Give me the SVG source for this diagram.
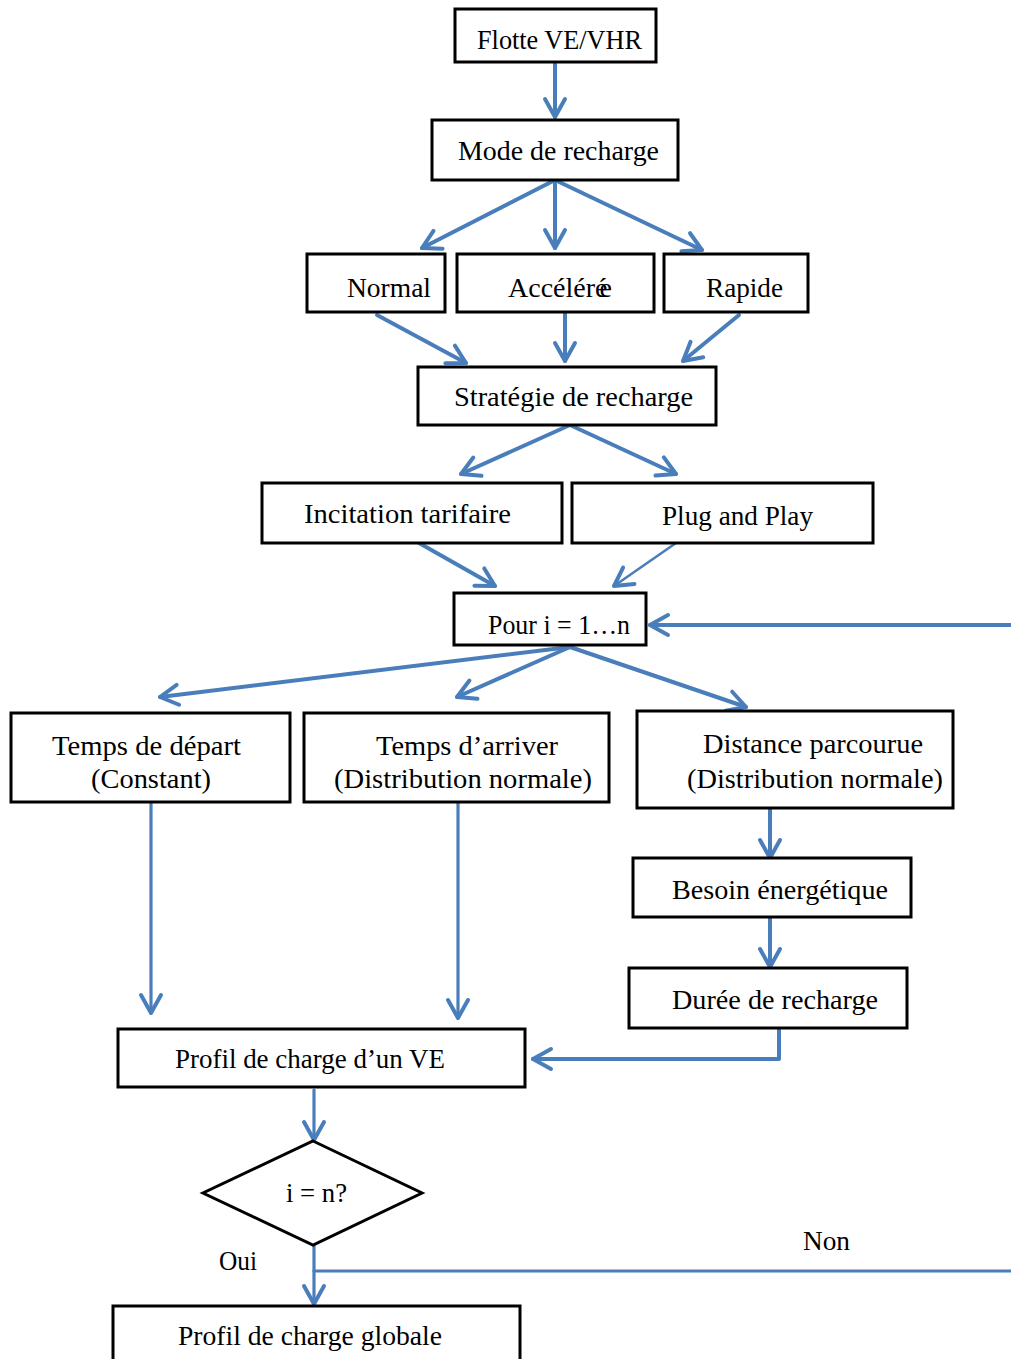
<svg xmlns="http://www.w3.org/2000/svg" width="1011" height="1359" viewBox="0 0 1011 1359">
<style>
.box{fill:#fff;stroke:#000;stroke-width:3}
.t{font-family:"Liberation Serif","Times New Roman",serif;font-size:28px;fill:#000}
.c{fill:none;stroke:#4a7ebb;stroke-width:4;stroke-linecap:round;stroke-linejoin:round}
.thin{stroke-width:2.6}
.mid{stroke-width:3.2}
</style>
<defs>
<marker id="ah" markerUnits="userSpaceOnUse" viewBox="-24 -14 28 28" markerWidth="28" markerHeight="28" refX="0" refY="0" orient="auto">
<path d="M-18,-10 L0,0 L-18,10" fill="none" stroke="#4a7ebb" stroke-width="4" stroke-linecap="round" stroke-linejoin="round"/>
</marker>
</defs>
<rect width="1011" height="1359" fill="#fff"/>
<g id="connectors">
<line class="c" x1="555" y1="62" x2="555" y2="117" marker-end="url(#ah)"/>
<line class="c" x1="555" y1="180" x2="422" y2="248" marker-end="url(#ah)"/>
<line class="c" x1="555" y1="180" x2="555" y2="248" marker-end="url(#ah)"/>
<line class="c" x1="555" y1="180" x2="702" y2="250" marker-end="url(#ah)"/>
<line class="c" x1="377" y1="315" x2="466" y2="363" marker-end="url(#ah)"/>
<line class="c" x1="565" y1="312" x2="565" y2="361" marker-end="url(#ah)"/>
<line class="c" x1="739" y1="315" x2="683" y2="361" marker-end="url(#ah)"/>
<line class="c" x1="570" y1="425" x2="461" y2="474" marker-end="url(#ah)"/>
<line class="c" x1="570" y1="425" x2="676" y2="474" marker-end="url(#ah)"/>
<line class="c" x1="419" y1="543" x2="495" y2="586" marker-end="url(#ah)"/>
<line class="c thin" x1="676" y1="543" x2="614" y2="586" marker-end="url(#ah)"/>
<line class="c" x1="1013" y1="625" x2="650" y2="625" marker-end="url(#ah)"/>
<line class="c" x1="570" y1="647" x2="160" y2="697" marker-end="url(#ah)"/>
<line class="c" x1="570" y1="647" x2="457" y2="697" marker-end="url(#ah)"/>
<line class="c" x1="570" y1="647" x2="746" y2="707" marker-end="url(#ah)"/>
<line class="c mid" x1="151" y1="803" x2="151" y2="1013" marker-end="url(#ah)"/>
<line class="c mid" x1="458" y1="803" x2="458" y2="1018" marker-end="url(#ah)"/>
<line class="c" x1="770" y1="809" x2="770" y2="858" marker-end="url(#ah)"/>
<line class="c" x1="770" y1="918" x2="770" y2="967" marker-end="url(#ah)"/>
<path class="c" d="M779,1029 V1059 H533" marker-end="url(#ah)"/>
<line class="c mid" x1="314" y1="1090" x2="314" y2="1140" marker-end="url(#ah)"/>
<line class="c mid" x1="314" y1="1246" x2="314" y2="1304" marker-end="url(#ah)"/>
<line class="c mid" x1="314" y1="1271" x2="1013" y2="1271"/>
</g>
<g id="n-flotte"><rect class="box" x="455" y="9" width="201" height="53"/><text class="t" x="477" y="49" textLength="165" lengthAdjust="spacingAndGlyphs">Flotte VE/VHR</text></g>
<g id="n-mode"><rect class="box" x="432" y="120" width="246" height="60"/><text class="t" x="458" y="160" textLength="201" lengthAdjust="spacingAndGlyphs">Mode de recharge</text></g>
<g id="n-normal"><rect class="box" x="307" y="254" width="138" height="58"/><text class="t" x="347" y="297" textLength="84" lengthAdjust="spacingAndGlyphs">Normal</text></g>
<g id="n-accelere"><rect class="box" x="457" y="254" width="197" height="58"/><text class="t" x="508" y="297" dx="0 0 0 0 0 0 0 0 -8">Accélérée</text></g>
<g id="n-rapide"><rect class="box" x="664" y="254" width="144" height="58"/><text class="t" x="706" y="297" textLength="77" lengthAdjust="spacingAndGlyphs">Rapide</text></g>
<g id="n-strategie"><rect class="box" x="418" y="367" width="298" height="58"/><text class="t" x="454" y="406" textLength="239" lengthAdjust="spacingAndGlyphs">Stratégie de recharge</text></g>
<g id="n-incitation"><rect class="box" x="262" y="483" width="300" height="60"/><text class="t" x="304" y="523" textLength="207" lengthAdjust="spacingAndGlyphs">Incitation tarifaire</text></g>
<g id="n-plug"><rect class="box" x="572" y="483" width="301" height="60"/><text class="t" x="662" y="525" textLength="151" lengthAdjust="spacingAndGlyphs">Plug and Play</text></g>
<g id="n-pour"><rect class="box" x="454" y="593" width="192" height="52"/><text class="t" x="488" y="634" textLength="142" lengthAdjust="spacingAndGlyphs">Pour i = 1…n</text></g>
<g id="n-depart"><rect class="box" x="11" y="713" width="279" height="89"/><text class="t" x="52" y="755" textLength="189" lengthAdjust="spacingAndGlyphs">Temps de départ</text><text class="t" x="91" y="788" textLength="120" lengthAdjust="spacingAndGlyphs">(Constant)</text></g>
<g id="n-arriver"><rect class="box" x="304" y="713" width="305" height="89"/><text class="t" x="376" y="755" textLength="182" lengthAdjust="spacingAndGlyphs">Temps d’arriver</text><text class="t" x="334" y="788" textLength="258" lengthAdjust="spacingAndGlyphs">(Distribution normale)</text></g>
<g id="n-distance"><rect class="box" x="637" y="711" width="316" height="97"/><text class="t" x="703" y="753" textLength="220" lengthAdjust="spacingAndGlyphs">Distance parcourue</text><text class="t" x="687" y="788" textLength="256" lengthAdjust="spacingAndGlyphs">(Distribution normale)</text></g>
<g id="n-besoin"><rect class="box" x="633" y="858" width="278" height="59"/><text class="t" x="672" y="899" textLength="216" lengthAdjust="spacingAndGlyphs">Besoin énergétique</text></g>
<g id="n-duree"><rect class="box" x="629" y="968" width="278" height="60"/><text class="t" x="672" y="1009" textLength="206" lengthAdjust="spacingAndGlyphs">Durée de recharge</text></g>
<g id="n-profil-ve"><rect class="box" x="118" y="1029" width="407" height="58"/><text class="t" x="175" y="1068" textLength="270" lengthAdjust="spacingAndGlyphs">Profil de charge d’un VE</text></g>
<g id="n-decision"><polygon class="box" points="313,1141 422,1193 313,1245 203,1193"/><text class="t" x="286" y="1202" textLength="61" lengthAdjust="spacingAndGlyphs">i = n?</text></g>
<g id="labels"><text class="t" x="803" y="1250" textLength="47" lengthAdjust="spacingAndGlyphs">Non</text><text class="t" x="219" y="1270" textLength="38" lengthAdjust="spacingAndGlyphs">Oui</text></g>
<g id="n-profil-global"><rect class="box" x="113" y="1306" width="407" height="80"/><text class="t" x="178" y="1345" textLength="264" lengthAdjust="spacingAndGlyphs">Profil de charge globale</text></g>
</svg>
